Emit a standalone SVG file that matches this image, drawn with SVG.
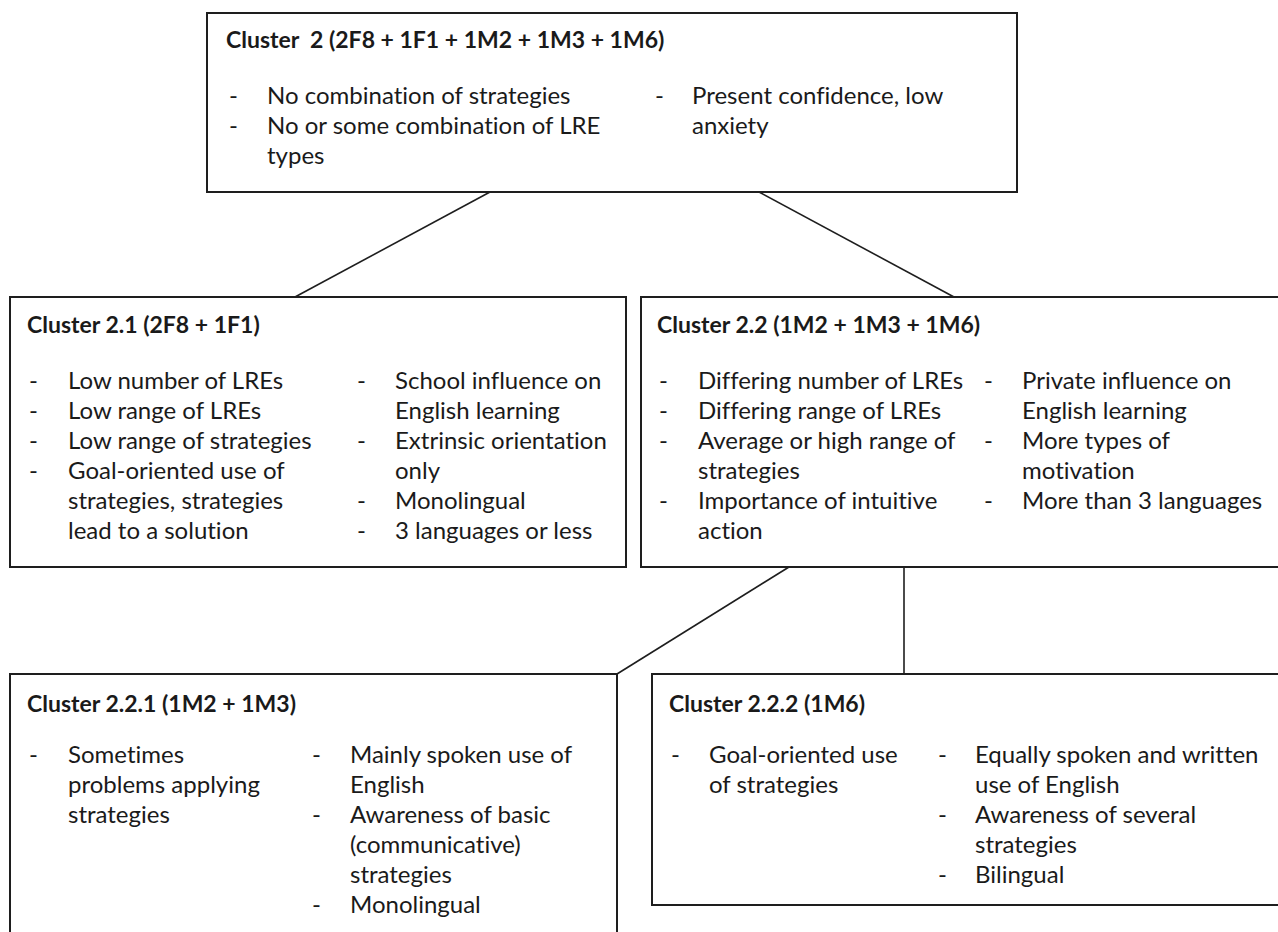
<svg xmlns="http://www.w3.org/2000/svg" width="1278" height="932" viewBox="0 0 1278 932">
<style>
.box{fill:#fff;stroke:#1e1e1e;stroke-width:2}
.ln{stroke:#1e1e1e;stroke-width:1.6;fill:none}
text{font-family:Lato,"Open Sans","Liberation Sans",sans-serif;font-size:24px;fill:#1a1a1a;font-variant-ligatures:none}
.t{font-weight:bold;font-size:23px}
</style>
<rect width="1278" height="932" fill="#fff"/>
<g id="connectors">
<line class="ln" x1="490" y1="192" x2="295" y2="297"/>
<line class="ln" x1="759" y1="192" x2="954" y2="297"/>
<line class="ln" x1="789" y1="567" x2="617" y2="674"/>
<line class="ln" x1="904" y1="567" x2="904" y2="674"/>
</g>
<g id="cluster2">
<rect class="box" x="207" y="13" width="810" height="179"/>
<text class="t" x="226" y="48" xml:space="preserve">Cluster  2 (2F8 + 1F1 + 1M2 + 1M3 + 1M6)</text>
<text x="229" y="104">-</text><text x="267" y="104">No combination of strategies</text>
<text x="229" y="134">-</text><text x="267" y="134">No or some combination of LRE</text>
<text x="267" y="164">types</text>
<text x="655" y="104">-</text><text x="692" y="104">Present confidence, low</text>
<text x="692" y="134">anxiety</text>
</g>
<g id="cluster21">
<rect class="box" x="10" y="297" width="616" height="270"/>
<text class="t" x="27" y="333">Cluster 2.1 (2F8 + 1F1)</text>
<text x="29" y="389">-</text><text x="68" y="389">Low number of LREs</text>
<text x="29" y="419">-</text><text x="68" y="419">Low range of LREs</text>
<text x="29" y="449">-</text><text x="68" y="449">Low range of strategies</text>
<text x="29" y="479">-</text><text x="68" y="479">Goal-oriented use of</text>
<text x="68" y="509">strategies, strategies</text>
<text x="68" y="539">lead to a solution</text>
<text x="357" y="389">-</text><text x="395" y="389">School influence on</text>
<text x="395" y="419">English learning</text>
<text x="357" y="449">-</text><text x="395" y="449">Extrinsic orientation</text>
<text x="395" y="479">only</text>
<text x="357" y="509">-</text><text x="395" y="509">Monolingual</text>
<text x="357" y="539">-</text><text x="395" y="539">3 languages or less</text>
</g>
<g id="cluster22">
<rect class="box" x="641" y="297" width="640" height="270"/>
<text class="t" x="657" y="333">Cluster 2.2 (1M2 + 1M3 + 1M6)</text>
<text x="659" y="389">-</text><text x="698" y="389">Differing number of LREs</text>
<text x="659" y="419">-</text><text x="698" y="419">Differing range of LREs</text>
<text x="659" y="449">-</text><text x="698" y="449">Average or high range of</text>
<text x="698" y="479">strategies</text>
<text x="659" y="509">-</text><text x="698" y="509">Importance of intuitive</text>
<text x="698" y="539">action</text>
<text x="984" y="389">-</text><text x="1022" y="389">Private influence on</text>
<text x="1022" y="419">English learning</text>
<text x="984" y="449">-</text><text x="1022" y="449">More types of</text>
<text x="1022" y="479">motivation</text>
<text x="984" y="509">-</text><text x="1022" y="509">More than 3 languages</text>
</g>
<g id="cluster221">
<rect class="box" x="10" y="674" width="607" height="270"/>
<text class="t" x="27" y="712">Cluster 2.2.1 (1M2 + 1M3)</text>
<text x="29" y="763">-</text><text x="68" y="763">Sometimes</text>
<text x="68" y="793">problems applying</text>
<text x="68" y="823">strategies</text>
<text x="312" y="763">-</text><text x="350" y="763">Mainly spoken use of</text>
<text x="350" y="793">English</text>
<text x="312" y="823">-</text><text x="350" y="823">Awareness of basic</text>
<text x="350" y="853">(communicative)</text>
<text x="350" y="883">strategies</text>
<text x="312" y="913">-</text><text x="350" y="913">Monolingual</text>
</g>
<g id="cluster222">
<rect class="box" x="652" y="674" width="630" height="231"/>
<text class="t" x="669" y="712">Cluster 2.2.2 (1M6)</text>
<text x="671" y="763">-</text><text x="709" y="763">Goal-oriented use</text>
<text x="709" y="793">of strategies</text>
<text x="938" y="763">-</text><text x="975" y="763">Equally spoken and written</text>
<text x="975" y="793">use of English</text>
<text x="938" y="823">-</text><text x="975" y="823">Awareness of several</text>
<text x="975" y="853">strategies</text>
<text x="938" y="883">-</text><text x="975" y="883">Bilingual</text>
</g>
</svg>
